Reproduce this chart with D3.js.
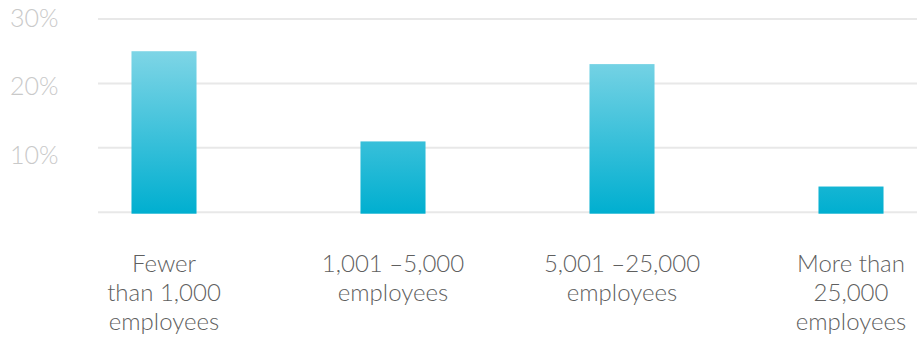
<!DOCTYPE html>
<html>
<head>
<meta charset="utf-8">
<script src="https://cdn.jsdelivr.net/npm/d3@7"></script>
<style>
  html, body { margin: 0; padding: 0; background: #ffffff; }
  svg { display: block; font-family: Lato, "Open Sans", sans-serif; font-weight: 300; }
</style>
</head>
<body>
<svg id="chart" width="917" height="341"></svg>
<script>
// Share of respondents by company size
const categories = [
  ["Fewer", "than 1,000", "employees"],
  ["1,001 \u20135,000", "employees"],
  ["5,001 \u201325,000", "employees"],
  ["More than", "25,000", "employees"]
];
const values = [25, 11, 23, 4];
const gridValues = [0, 10, 20, 30];
const tickLabels = ["10%", "20%", "30%"];
const tickValues = [10, 20, 30];

const svg = d3.select("#chart");
const W = 917;

const y = d3.scaleLinear().domain([0, 30]).range([212.3, 19]);
// tick labels sit on their own slightly wider spacing
const yLabel = d3.scaleLinear().domain([10, 30]).range([154.5, 17.5]);

const x = d3.scaleBand()
  .domain(d3.range(categories.length))
  .range([49.5, 965.5])
  .paddingInner(0.716)
  .paddingOuter(0.358);

// vertical gradient fixed to chart space, light at the top
const defs = svg.append("defs");
const grad = defs.append("linearGradient")
  .attr("id", "barGrad")
  .attr("gradientUnits", "userSpaceOnUse")
  .attr("x1", 0).attr("x2", 0)
  .attr("y1", y(25)).attr("y2", y(0));
grad.append("stop").attr("offset", "0%").attr("stop-color", "#7ed5e6");
grad.append("stop").attr("offset", "100%").attr("stop-color", "#01afd0");

// horizontal gridlines
svg.append("g").selectAll("line")
  .data(gridValues)
  .join("line")
  .attr("x1", 98).attr("x2", W)
  .attr("y1", d => y(d)).attr("y2", d => y(d))
  .attr("stroke", "#e8e8e8")
  .attr("stroke-width", 2);

// y tick labels
svg.append("g").selectAll("text")
  .data(tickValues)
  .join("text")
  .attr("x", 10)
  .attr("y", d => yLabel(d))
  .attr("dy", "0.36em")
  .attr("fill", "#c9c9c9")
  .attr("font-size", 25)
  .text((d, i) => tickLabels[i]);

// bars
svg.append("g").selectAll("rect")
  .data(values)
  .join("rect")
  .attr("x", (d, i) => x(i))
  .attr("width", x.bandwidth())
  .attr("y", d => y(d))
  .attr("height", d => y(0) - y(d) + 1.4)
  .attr("fill", "url(#barGrad)");

// category labels
const labelG = svg.append("g");
categories.forEach((lines, i) => {
  const t = labelG.append("text")
    .attr("text-anchor", "middle")
    .attr("fill", "#5f5f5f")
    .attr("font-size", 24)
    .attr("x", x(i) + x.bandwidth() / 2);
  lines.forEach((line, j) => {
    t.append("tspan")
      .attr("x", x(i) + x.bandwidth() / 2)
      .attr("y", 271.7 + j * 29)
      .text(line);
  });
});
</script>
</body>
</html>
